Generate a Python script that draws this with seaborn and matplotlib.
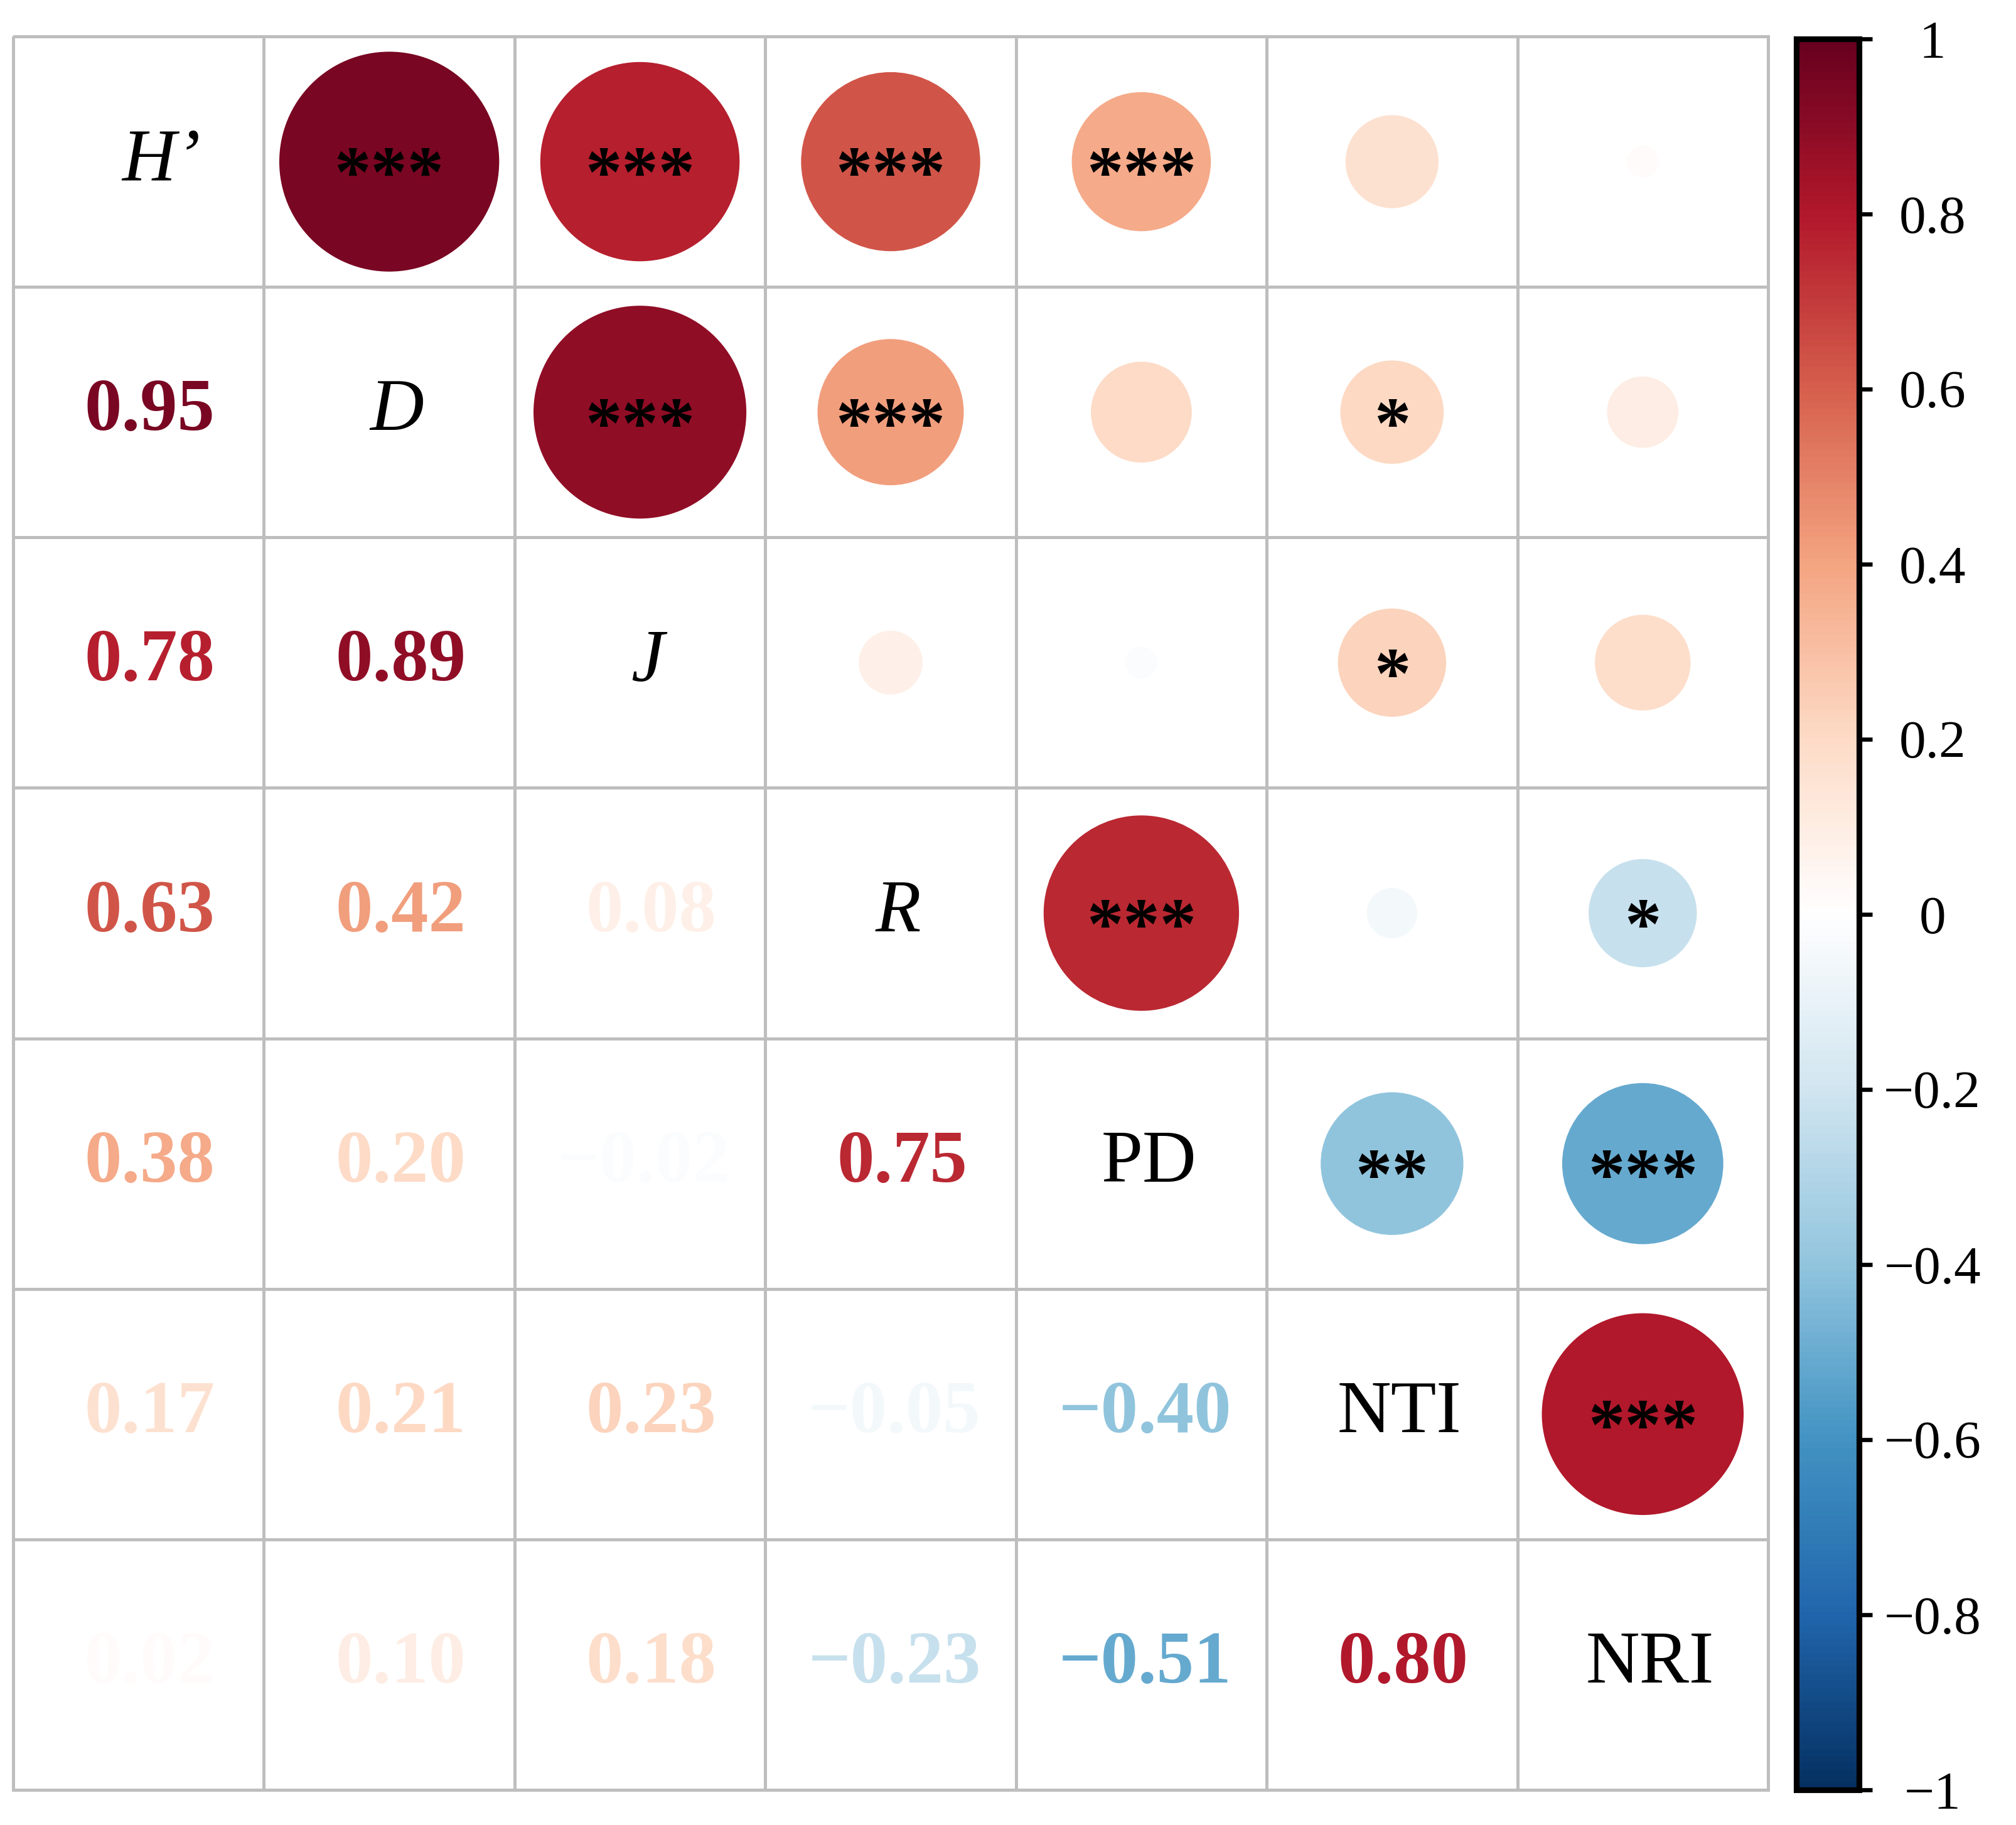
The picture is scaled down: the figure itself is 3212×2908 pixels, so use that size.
import numpy as np
import pandas as pd
import matplotlib
matplotlib.use("Agg")
import matplotlib.pyplot as plt
from matplotlib.colors import ListedColormap, LinearSegmentedColormap, Normalize
from matplotlib.cm import ScalarMappable
import seaborn as sns

# ---------------- data ----------------
var_names = ["H\u2019", "D", "J", "R", "PD", "NTI", "NRI"]
var_styles = ["italic", "italic", "italic", "italic", "normal", "normal", "normal"]

# lower-triangle correlation values, row i holds r(i, j) for j < i
r_D = [0.95]
r_J = [0.78, 0.89]
r_R = [0.63, 0.42, 0.08]
r_PD = [0.38, 0.20, -0.02, 0.75]
r_NTI = [0.17, 0.21, 0.23, -0.05, -0.40]
r_NRI = [0.02, 0.10, 0.18, -0.23, -0.51, 0.80]
lower_rows = [[], r_D, r_J, r_R, r_PD, r_NTI, r_NRI]

# significance marks, same layout as the values
s_D = ["***"]
s_J = ["***", "***"]
s_R = ["***", "***", ""]
s_PD = ["***", "", "", "***"]
s_NTI = ["", "*", "*", "", "**"]
s_NRI = ["", "", "", "*", "***", "***"]
sig_rows = [[], s_D, s_J, s_R, s_PD, s_NTI, s_NRI]

cbar_ticks = [1, 0.8, 0.6, 0.4, 0.2, 0, -0.2, -0.4, -0.6, -0.8, -1]

n = len(var_names)
corr = np.eye(n)
sig = [["" for _ in range(n)] for _ in range(n)]
for i in range(n):
    for j, v in enumerate(lower_rows[i]):
        corr[i, j] = v
        corr[j, i] = v
        sig[j][i] = sig_rows[i][j]

# ---------------- figure ----------------
W, H, DPI = 3212, 2908, 300
sns.set_style("white")
plt.rcParams["font.family"] = ["Liberation Serif", "DejaVu Serif"]

fig = plt.figure(figsize=(W / DPI, H / DPI), dpi=DPI)
ax = fig.add_axes([21 / W, 1 - 2852 / H, 2796 / W, 2794 / H])
cax = fig.add_axes([2862 / W, 1 - 2852 / H, 100 / W, 2790 / H])

# corrplot-style RdBu palette with a pure white centre
rdbu_cols = ["#053061", "#2166AC", "#4393C3", "#92C5DE", "#D1E5F0", "#FFFFFF",
             "#FDDBC7", "#F4A582", "#D6604D", "#B2182B", "#67001F"]
cmap = LinearSegmentedColormap.from_list("corr_rdbu", rdbu_cols, N=256)
norm = Normalize(vmin=-1, vmax=1)

# white grid of cells
sns.heatmap(np.zeros((n, n)), cmap=ListedColormap(["white"]), cbar=False,
            linewidths=1.1, linecolor="#BEBEBE", ax=ax,
            xticklabels=False, yticklabels=False)
ax.collections[0].set_clip_on(False)
ax.set_xlim(0, n)
ax.set_ylim(n, 0)
for sp in ax.spines.values():
    sp.set_visible(False)

# circles in the upper triangle
cell_pt = ax.get_position().width * W / n * 72 / DPI
rows = []
for i in range(n):
    for j in range(i + 1, n):
        r = corr[i, j]
        rows.append({"x": j + 0.5, "y": i + 0.5, "r": r,
                     "s": (0.9 * np.sqrt(abs(r)) * cell_pt) ** 2,
                     "sig": sig[i][j]})
df = pd.DataFrame(rows)
sns.scatterplot(data=df, x="x", y="y", hue="r", palette=cmap, hue_norm=norm,
                s=df["s"].values, linewidth=0, edgecolor="none",
                legend=False, ax=ax, zorder=3)
ax.set_xlabel("")
ax.set_ylabel("")
ax.set_xlim(0, n)
ax.set_ylim(n, 0)

for _, row in df.iterrows():
    if row["sig"]:
        ax.text(row["x"], row["y"] + 0.14, row["sig"], ha="center", va="baseline",
                fontsize=28, fontweight="bold", color="black", zorder=4)

# numbers in the lower triangle (slight rightward nudge as in the original)
for i in range(n):
    for j in range(i):
        v = corr[i, j]
        txt = f"{v:.2f}".replace("-", "\u2212")
        dx = 0.045 if v >= 0 else 0.015
        ax.text(j + 0.5 + dx, i + 0.5, txt, ha="center", va="center",
                fontsize=28.5, fontweight="bold", color=cmap(norm(v)), zorder=4)

# diagonal names
for k, name in enumerate(var_names):
    dx = 0.09 if k == 0 else 0.03
    ax.text(k + 0.5 + dx, k + 0.5, name, ha="center", va="center",
            fontsize=28.5, fontstyle=var_styles[k], color="black", zorder=4)

# colorbar
cb = fig.colorbar(ScalarMappable(norm=norm, cmap=cmap), cax=cax)
cb.outline.set_linewidth(2.2)
cb.outline.set_edgecolor("black")
cb.set_ticks(cbar_ticks)
cb.set_ticklabels([("%g" % t).replace("-", "\u2212") for t in cbar_ticks])
cax.tick_params(axis="y", direction="out", length=5, width=1.6, pad=23,
                labelsize=20.5, colors="black")
for lab in cax.get_yticklabels():
    lab.set_horizontalalignment("center")

fig.savefig("out.png", dpi=DPI)
